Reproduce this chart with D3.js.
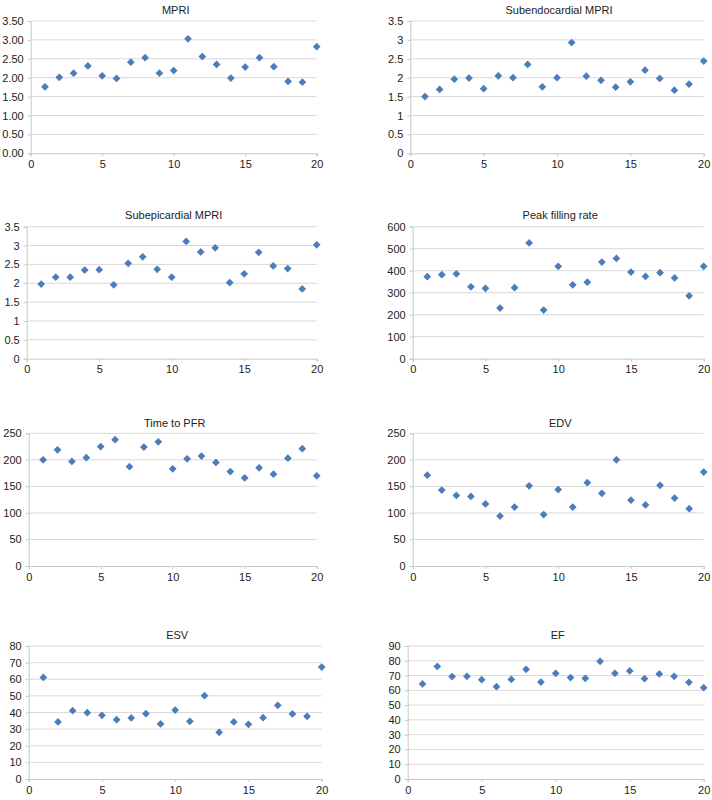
<!DOCTYPE html>
<html>
<head>
<meta charset="utf-8">
<script src="https://cdn.jsdelivr.net/npm/d3@7"></script>
<style>
  html, body { margin: 0; padding: 0; background: #fff; }
  svg { display: block; }
  text { font-family: "Liberation Sans", Arial, Helvetica, sans-serif; fill: #222; }
</style>
</head>
<body>
<svg id="chart" width="712" height="800"></svg>
<script>
// ---- data ----
const patients = d3.range(1, 21);
const titles = ["MPRI", "Subendocardial MPRI", "Subepicardial MPRI", "Peak filling rate",
                "Time to PFR", "EDV", "ESV", "EF"];
const mpri = [1.76, 2.01, 2.12, 2.31, 2.05, 1.98, 2.41, 2.53, 2.12, 2.19, 3.03, 2.56, 2.35, 1.99, 2.28, 2.53, 2.29, 1.90, 1.88, 2.82];
const subendoMpri = [1.50, 1.69, 1.96, 1.99, 1.71, 2.05, 2.00, 2.35, 1.76, 2.00, 2.93, 2.04, 1.93, 1.75, 1.89, 2.20, 1.98, 1.67, 1.83, 2.44];
const subepiMpri = [1.98, 2.16, 2.16, 2.35, 2.36, 1.96, 2.53, 2.70, 2.37, 2.16, 3.11, 2.83, 2.94, 2.02, 2.25, 2.82, 2.46, 2.39, 1.85, 3.02];
const peakFillingRate = [373, 382, 386, 327, 320, 230, 323, 526, 221, 420, 336, 348, 439, 456, 394, 374, 391, 367, 286, 420];
const timeToPfr = [200, 219, 197, 204, 225, 238, 187, 224, 234, 183, 202, 207, 195, 178, 166, 185, 173, 203, 221, 170];
const edv = [171, 143, 133, 131, 117, 94, 111, 151, 97, 144, 111, 157, 137, 200, 124, 115, 152, 128, 108, 177];
const esv = [61.1, 34.3, 41.1, 39.9, 38.3, 35.7, 36.7, 39.3, 33.1, 41.5, 34.7, 50.1, 28.1, 34.3, 32.9, 36.9, 44.3, 39.1, 37.7, 67.3];
const ef = [64.3, 76.2, 69.3, 69.5, 67.2, 62.5, 67.4, 74.2, 65.6, 71.5, 68.6, 68.1, 79.6, 71.5, 73.1, 67.9, 71.1, 69.5, 65.4, 61.8];
const xTicks = [0, 5, 10, 15, 20];
const yTicksMpri = [0, 0.5, 1, 1.5, 2, 2.5, 3, 3.5];
const yTicksPfr = [0, 100, 200, 300, 400, 500, 600];
const yTicks250 = [0, 50, 100, 150, 200, 250];
const yTicksEsv = [0, 10, 20, 30, 40, 50, 60, 70, 80];
const yTicksEf = [0, 10, 20, 30, 40, 50, 60, 70, 80, 90];

const seriesList = [mpri, subendoMpri, subepiMpri, peakFillingRate, timeToPfr, edv, esv, ef];
const tickList = [yTicksMpri, yTicksMpri, yTicksMpri, yTicksPfr, yTicks250, yTicks250, yTicksEsv, yTicksEf];
const formats = [d3.format(".2f"), d3.format("~g"), d3.format("~g"), d3.format("d"),
                 d3.format("d"), d3.format("d"), d3.format("d"), d3.format("d")];

// ---- layout (plot area boxes: left, right, top, bottom, title baseline) ----
const layout = [
  [30.7, 316.7, 21, 153.3, 13.5],
  [410.3, 703.7, 21, 153.3, 13.5],
  [26.7, 316.7, 226.7, 358.7, 218.7],
  [412.7, 703.7, 226.7, 358.7, 218.7],
  [28.7, 316.7, 433.3, 566, 426.7],
  [412.7, 703.7, 433.3, 566, 426.7],
  [28.7, 321.7, 646, 779, 639],
  [407.7, 703.7, 646, 779, 639]
];

const markerColor = "#4a7ebb";
const gridColor = "#d9d9d9";
const axisColor = "#c8c8c8";
const svg = d3.select("#chart");
const square = d3.symbol().type(d3.symbolSquare).size(30);

seriesList.forEach((vals, i) => {
  const [l, r, t, b, ty] = layout[i];
  const ticks = tickList[i];
  const x = d3.scaleLinear().domain([0, 20]).range([l, r]);
  const y = d3.scaleLinear().domain([0, d3.max(ticks)]).range([b, t]);
  const g = svg.append("g");

  // gridlines
  g.append("g").selectAll("line").data(ticks.filter(v => v > 0)).join("line")
    .attr("x1", l).attr("x2", r)
    .attr("y1", d => y(d)).attr("y2", d => y(d))
    .attr("stroke", gridColor).attr("stroke-width", 1);

  // y axis
  const ya = g.append("g").attr("transform", `translate(${l},0)`)
    .call(d3.axisLeft(y).tickValues(ticks).tickFormat(formats[i]).tickSize(3).tickPadding(4));
  ya.select(".domain").attr("stroke", axisColor);
  ya.selectAll(".tick line").attr("stroke", axisColor);
  ya.selectAll("text").attr("font-size", 11).attr("fill", "#222")
    .attr("font-family", "\"Liberation Sans\", Arial, sans-serif");

  // x axis
  const xa = g.append("g").attr("transform", `translate(0,${b})`)
    .call(d3.axisBottom(x).tickValues(xTicks).tickFormat(d3.format("d")).tickSize(3).tickPadding(4));
  xa.select(".domain").attr("stroke", axisColor);
  xa.selectAll(".tick line").attr("stroke", axisColor);
  xa.selectAll("text").attr("font-size", 11).attr("fill", "#222")
    .attr("font-family", "\"Liberation Sans\", Arial, sans-serif");

  // title
  g.append("text").attr("x", (l + r) / 2 + 2).attr("y", ty)
    .attr("text-anchor", "middle").attr("font-size", 11).text(titles[i]);

  // markers (rotated squares = diamonds)
  g.append("g").selectAll("path").data(vals).join("path")
    .attr("d", square)
    .attr("transform", (d, j) => `translate(${x(patients[j])},${y(d)}) rotate(45)`)
    .attr("fill", markerColor);
});
</script>
</body>
</html>
